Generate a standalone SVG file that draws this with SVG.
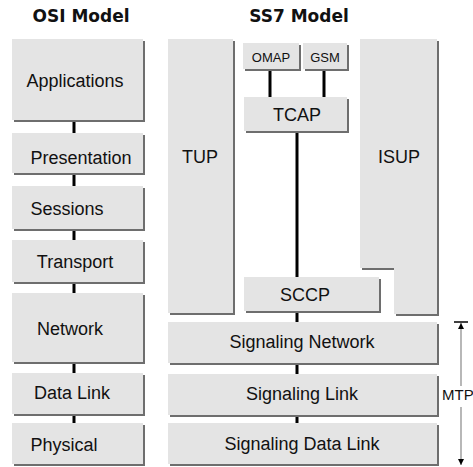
<svg xmlns="http://www.w3.org/2000/svg" width="473" height="467" viewBox="0 0 473 467">
<defs>
<style>
.sh{fill:#6e6e6e}
.bx{fill:#e4e4e4}
.t{font-family:"Liberation Sans",Arial,sans-serif;font-size:18px;fill:#111;text-anchor:middle}
.ts{font-family:"Liberation Sans",Arial,sans-serif;font-size:13px;fill:#111;text-anchor:middle}
.h{font-family:"DejaVu Sans",sans-serif;font-weight:bold;font-size:17px;fill:#111;text-anchor:middle}
.c{stroke:#000;stroke-width:3;fill:none}
.m{stroke:#888;stroke-width:1.2;fill:none}
</style>
<marker id="ah" viewBox="0 0 10 10" refX="10" refY="5" markerWidth="6" markerHeight="6" orient="auto" markerUnits="userSpaceOnUse"><path d="M0,0 L10,5 L0,10 z" fill="#000"/></marker>
</defs>
<rect width="473" height="467" fill="#fff"/>
<text class="h" x="81" y="22">OSI Model</text>
<text class="h" x="299" y="22">SS7 Model</text>
<g id="connectors">
<line class="c" x1="74" y1="122" x2="74" y2="133"/>
<line class="c" x1="74" y1="175" x2="74" y2="186"/>
<line class="c" x1="74" y1="231" x2="74" y2="240"/>
<line class="c" x1="74" y1="284" x2="74" y2="293"/>
<line class="c" x1="74" y1="364" x2="74" y2="373"/>
<line class="c" x1="74" y1="416" x2="74" y2="423"/>
<line class="c" x1="270" y1="71" x2="270" y2="97"/>
<line class="c" x1="324" y1="71" x2="324" y2="97"/>
<line class="c" x1="297" y1="133" x2="297" y2="277"/>
<line class="c" x1="297" y1="313" x2="297" y2="322"/>
<line class="c" x1="297" y1="365" x2="297" y2="374"/>
<line class="c" x1="297" y1="417" x2="297" y2="423"/>
</g>
<g id="applications"><rect class="sh" x="14" y="41" width="131" height="81"/><rect class="bx" x="12" y="39" width="131" height="81"/><text class="t" x="75" y="87">Applications</text></g>
<g id="presentation"><rect class="sh" x="14" y="135" width="131" height="40"/><rect class="bx" x="12" y="133" width="131" height="40"/><text class="t" x="81" y="164">Presentation</text></g>
<g id="sessions"><rect class="sh" x="14" y="188" width="131" height="43"/><rect class="bx" x="12" y="186" width="131" height="43"/><text class="t" x="67" y="215">Sessions</text></g>
<g id="transport"><rect class="sh" x="14" y="242" width="131" height="42"/><rect class="bx" x="12" y="240" width="131" height="42"/><text class="t" x="75" y="268">Transport</text></g>
<g id="network"><rect class="sh" x="14" y="295" width="131" height="69"/><rect class="bx" x="12" y="293" width="131" height="69"/><text class="t" x="70" y="335">Network</text></g>
<g id="datalink"><rect class="sh" x="14" y="375" width="131" height="41"/><rect class="bx" x="12" y="373" width="131" height="41"/><text class="t" x="72" y="399">Data Link</text></g>
<g id="physical"><rect class="sh" x="14" y="425" width="131" height="41"/><rect class="bx" x="12" y="423" width="131" height="41"/><text class="t" x="64" y="451">Physical</text></g>
<g id="tup"><rect class="sh" x="170" y="41" width="65" height="274"/><rect class="bx" x="168" y="39" width="65" height="274"/><text class="t" x="200" y="163">TUP</text></g>
<g id="omap"><rect class="sh" x="245" y="45" width="56" height="26"/><rect class="bx" x="243" y="43" width="56" height="26"/><text class="ts" x="271" y="62">OMAP</text></g>
<g id="gsm"><rect class="sh" x="305" y="45" width="44" height="26"/><rect class="bx" x="303" y="43" width="44" height="26"/><text class="ts" x="325" y="62">GSM</text></g>
<g id="tcap"><rect class="sh" x="246" y="99" width="103" height="34"/><rect class="bx" x="244" y="97" width="103" height="34"/><text class="t" x="297" y="121">TCAP</text></g>
<g id="isup"><path class="sh" d="M362,41 H439 V316 H396 V270 H362 Z"/><path class="bx" d="M360,39 H437 V314 H394 V268 H360 Z"/><text class="t" x="399" y="163">ISUP</text></g>
<g id="sccp"><rect class="sh" x="246" y="279" width="135" height="34"/><rect class="bx" x="244" y="277" width="135" height="34"/><text class="t" x="305" y="301">SCCP</text></g>
<g id="signet"><rect class="sh" x="170" y="324" width="269" height="41"/><rect class="bx" x="168" y="322" width="269" height="41"/><text class="t" x="302" y="348">Signaling Network</text></g>
<g id="siglink"><rect class="sh" x="170" y="376" width="269" height="41"/><rect class="bx" x="168" y="374" width="269" height="41"/><text class="t" x="302" y="400">Signaling Link</text></g>
<g id="sigdata"><rect class="sh" x="170" y="425" width="269" height="41"/><rect class="bx" x="168" y="423" width="269" height="41"/><text class="t" x="302" y="450">Signaling Data Link</text></g>
<g id="mtp">
<line x1="454" y1="322" x2="468" y2="322" stroke="#000" stroke-width="1.5"/>
<line class="m" x1="461" y1="386" x2="461" y2="323" marker-end="url(#ah)"/>
<line class="m" x1="461" y1="407" x2="461" y2="465" marker-end="url(#ah)"/>
<text x="442" y="400" font-family="Liberation Sans, Arial, sans-serif" font-size="15" fill="#111">MTP</text>
</g>
</svg>
